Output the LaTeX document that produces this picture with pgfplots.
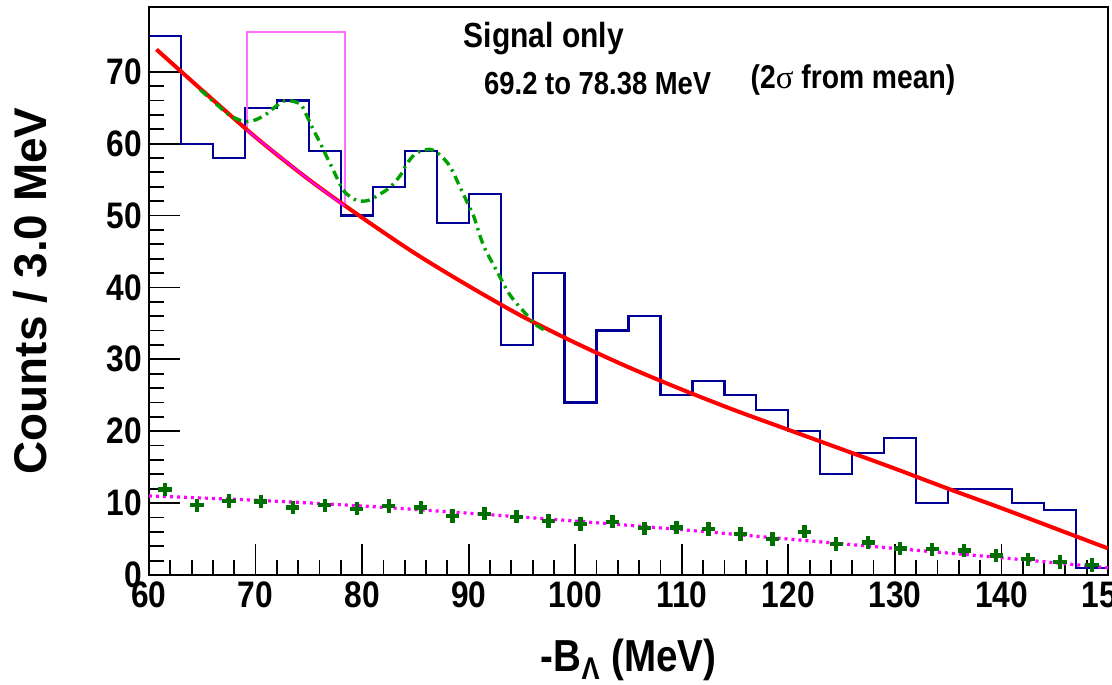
\documentclass[border=0pt]{standalone}
\usepackage{fontspec}
\setmainfont{Liberation Sans}[FakeStretch=0.86]
\newfontfamily\ylabfont{Liberation Sans}
\newfontfamily\symfont{Liberation Serif}
\usepackage{pgfplots}
\pgfplotsset{compat=1.18}

\definecolor{histblue}{RGB}{0,0,150}
\definecolor{fitred}{RGB}{255,0,0}
\definecolor{peakgreen}{RGB}{0,160,0}
\definecolor{bggreen}{RGB}{0,110,0}
\definecolor{boxmag}{RGB}{255,110,255}
\definecolor{bgmag}{RGB}{255,0,255}

\begin{document}
\begin{tikzpicture}
\begin{axis}[
  name=ax,
  width=479.5bp, height=284bp, scale only axis,
  xmin=60, xmax=150, ymin=0, ymax=79,
  xtick={60,70,...,150}, ytick={0,10,...,70},
  minor x tick num=4, minor y tick num=4,
  tick pos=left, tick align=inside,
  major tick length=15.5bp, minor tick length=7.5bp,
  every tick/.style={black, line width=0.9bp},
  axis line style={line width=1.1bp},
  ticklabel style={font=\fontsize{18.5}{18.5}\selectfont\bfseries},
  /pgf/number format/assume math mode=true,
  xlabel={-B\textsubscript{Λ} (MeV)},
  ylabel={Counts / 3.0 MeV},
  xlabel style={font=\fontsize{22.5}{22.5}\selectfont\bfseries,
    at={(axis description cs:0.5,-0.15)}, anchor=center},
  ylabel style={font=\ylabfont\fontsize{23}{23}\selectfont\bfseries,
    at={(axis description cs:-0.124,0.5)}, anchor=center},
]

% data histogram, 3 MeV bins
\addplot[const plot, histblue, line width=1.1bp] coordinates {
  (60,75) (63,60) (66,58) (69,65) (72,66) (75,59) (78,50) (81,54)
  (84,59) (87,49) (90,53) (93,32) (96,42) (99,24) (102,34) (105,36)
  (108,25) (111,27) (114,25) (117,23) (120,20) (123,14) (126,17)
  (129,19) (132,10) (135,12) (138,12) (141,10) (144,9) (147,1) (150,1)};

% signal window box
\addplot[boxmag, line width=0.8bp] coordinates {
  (69.2,61.9) (69.2,75.5) (78.38,75.5) (78.38,51.3)};

% background fit
\addplot[fitred, line width=2bp, smooth] coordinates {
  (60.7,73.1) (65,67.4) (70,60.9) (75,55.0) (80,49.7) (85,44.7)
  (90,40.2) (95,36.0) (100,32.3) (105,28.9) (110,25.8) (115,22.9)
  (120,20.2) (125,17.5) (130,14.8) (135,12.0) (140,9.3) (145,6.5)
  (150,3.7)};
\addplot[bgmag, line width=0.9bp, smooth] coordinates {
  (69.2,61.9) (70,60.9) (75,55.0) (78.38,51.3)};

% signal + background
\addplot[peakgreen, line width=1.7bp, smooth,
  dash pattern=on 4.5bp off 2.5bp on 1.2bp off 2.5bp] coordinates {
  (64.8,67.5) (66.7,65.0) (67.6,63.9) (68.9,63.1) (70.0,63.3)
  (71.1,64.2) (72.0,65.3) (72.9,66.0) (74.2,65.5) (74.8,63.9)
  (75.4,62.0) (76.1,60.0) (76.7,58.1) (77.3,56.3) (77.9,54.4)
  (78.4,53.2) (79.5,52.1) (80.6,52.1) (81.7,53.0) (82.6,53.9)
  (83.6,55.6) (84.2,57.2) (85.1,58.7) (86.4,59.2) (87.4,58.3)
  (88.3,56.7) (89.3,53.6) (90.0,51.4) (90.5,49.8) (91.4,45.8)
  (92.6,42.4) (93.9,38.9) (95.5,36.1) (96.4,34.7) (97.5,33.8)};

% side-band background
\addplot[bgmag, line width=1.6bp, smooth, dash pattern=on 1.5bp off 2bp] coordinates {
  (60,11.0) (70,10.4) (80,9.6) (90,8.6) (100,7.5) (110,6.3)
  (120,5.0) (130,3.7) (140,2.4) (150,1.0)};
\addplot[only marks, mark=+, mark size=3.3bp, bggreen,
  mark options={line width=2.2bp}] coordinates {
  (61.5,11.9) (64.5,9.7) (67.5,10.3) (70.5,10.2) (73.5,9.4) (76.5,9.7)
  (79.5,9.2) (82.5,9.6) (85.5,9.4) (88.5,8.2) (91.5,8.5) (94.5,8.1)
  (97.5,7.5) (100.5,7.1) (103.5,7.4) (106.5,6.5) (109.5,6.6) (112.5,6.4)
  (115.5,5.7) (118.5,5.0) (121.5,6.0) (124.5,4.3) (127.5,4.5) (130.5,3.7)
  (133.5,3.6) (136.5,3.4) (139.5,2.7) (142.5,2.2) (145.5,1.8) (148.5,1.4)};

\node[anchor=west, font=\fontsize{17.5}{17.5}\selectfont\bfseries]
  at (axis cs:88.9,74.6) {Signal only};
\node[anchor=west, font=\fontsize{16}{16}\selectfont\bfseries]
  at (axis cs:90.8,68.3) {69.2 to 78.38 MeV};
\node[anchor=west, font=\fontsize{16.5}{16.5}\selectfont\bfseries]
  at (axis cs:115.8,68.8) {(2{\symfont\mdseries σ} from mean)};
\end{axis}
\pgfresetboundingbox
\path[use as bounding box] ([shift={(-74.5bp,-55bp)}]ax.south west)
  rectangle ([shift={(2bp,3.5bp)}]ax.north east);
\end{tikzpicture}
\end{document}
